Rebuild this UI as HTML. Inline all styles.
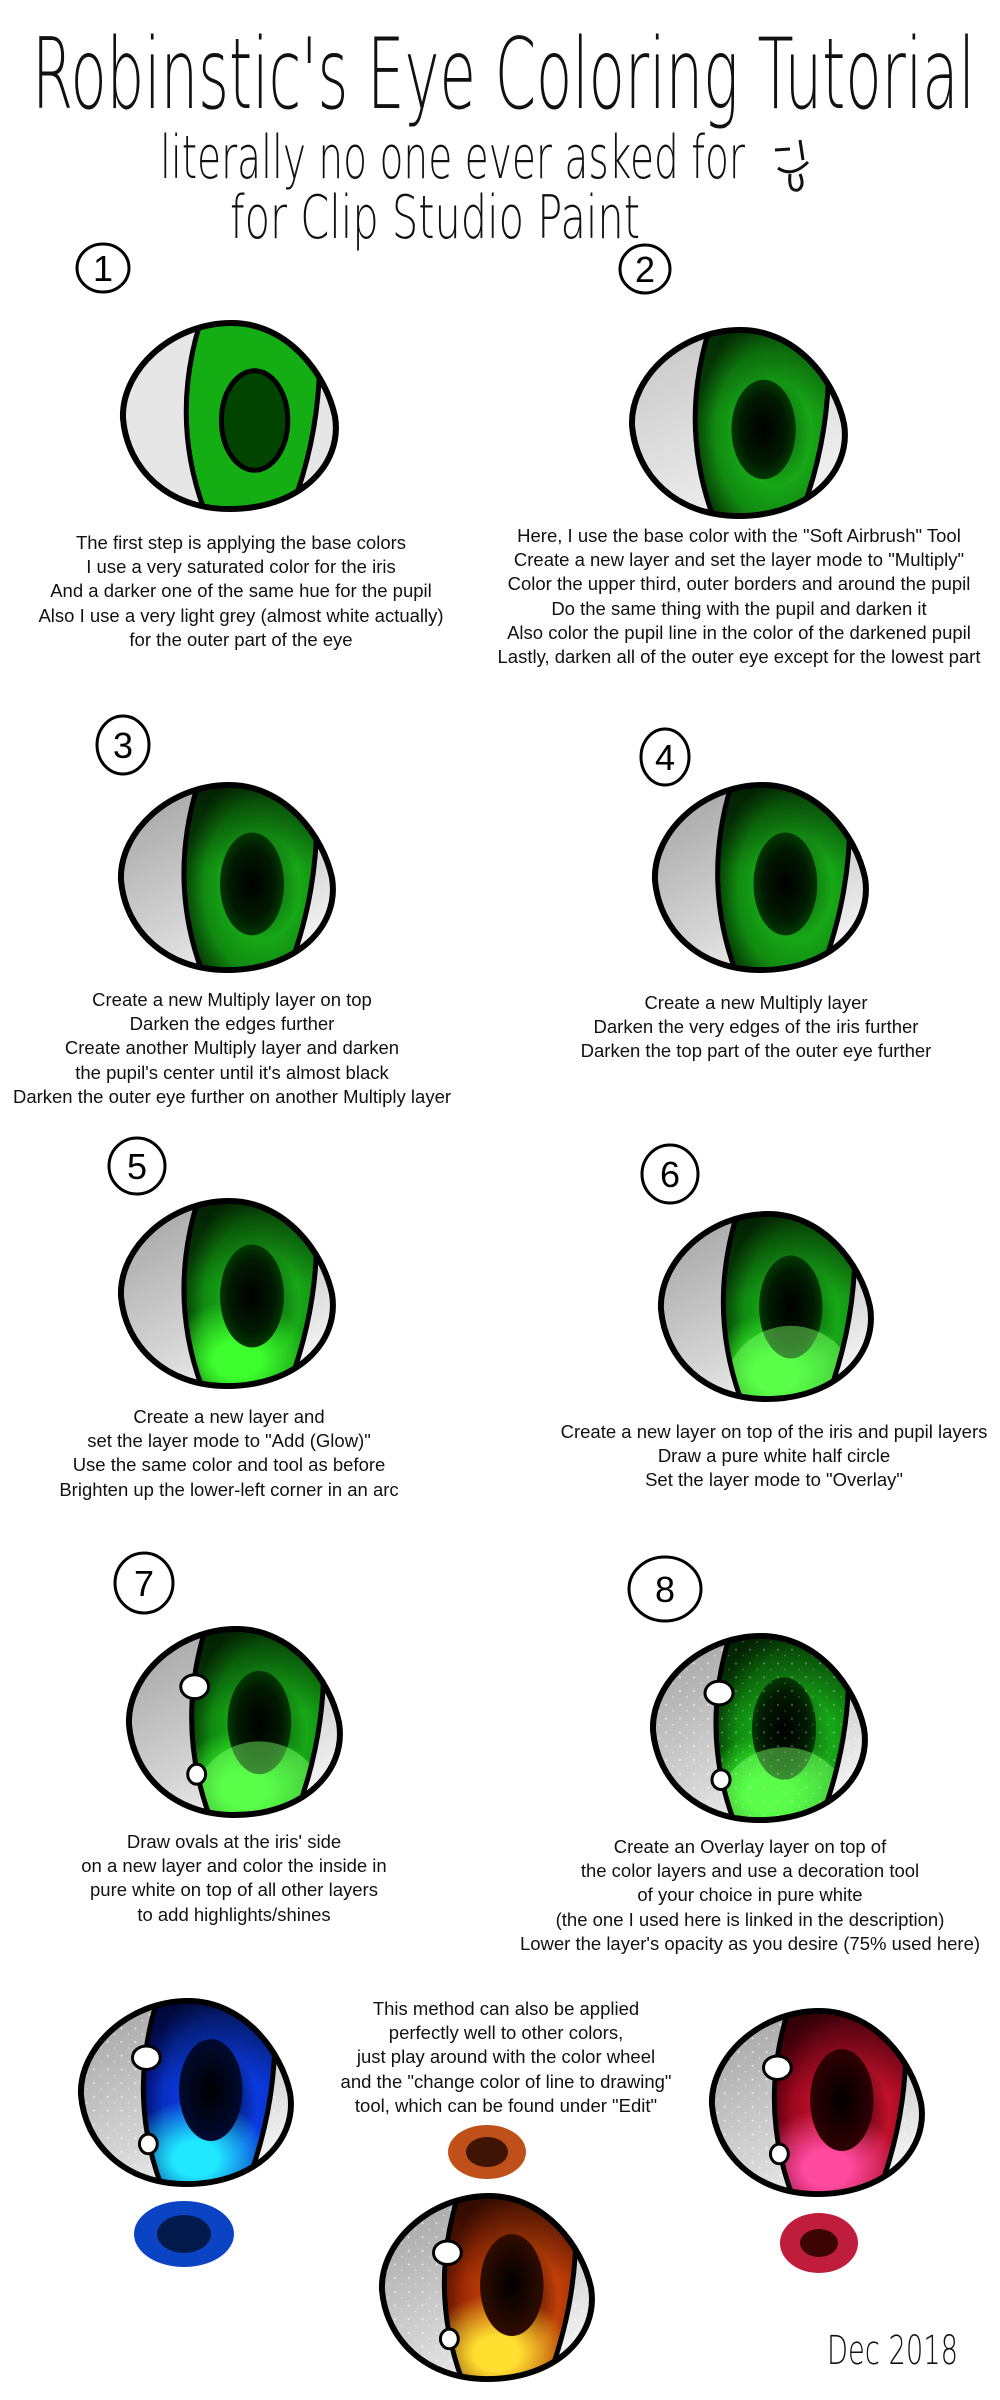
<!DOCTYPE html>
<html><head><meta charset="utf-8">
<style>
html,body{margin:0;padding:0;background:#fff;}
body{width:1000px;height:2400px;position:relative;overflow:hidden;font-family:"Liberation Sans",sans-serif;}
.t{position:absolute;width:640px;text-align:center;font-size:18.5px;line-height:24.2px;color:#111;white-space:nowrap;}
.e{position:absolute;}
.n{position:absolute;}
</style></head><body>
<svg width="0" height="0" style="position:absolute">
<defs>
<path id="eo" d="M112,4 C168,4 206,55 215,98 C223,148 178,191 110,191 C48,191 8,150 4,100 C2,52 52,4 112,4 Z"/>
<clipPath id="ec"><use href="#eo"/></clipPath>
<path id="ir" d="M82,0 Q50,100 86,195 L170,195 Q207,100 198,0 Z"/>
<clipPath id="ic"><use href="#ir"/></clipPath>
<path id="irl" d="M82,0 Q50,100 86,195 M198,0 Q207,100 170,195" fill="none" stroke="#000" stroke-width="5"/>
<linearGradient id="scl" x1="0" y1="0" x2="0.6" y2="1"><stop offset="0" stop-color="#9e9e9e"/><stop offset="0.7" stop-color="#d6d6d6"/><stop offset="1" stop-color="#f4f4f4"/></linearGradient>
<linearGradient id="scl2" x1="0" y1="0" x2="0.5" y2="1"><stop offset="0" stop-color="#c4c4c4"/><stop offset="1" stop-color="#f0f0f0"/></linearGradient>
<radialGradient id="gG" cx="0.6" cy="0.55" r="0.6"><stop offset="0" stop-color="#0a5a0a"/><stop offset="0.45" stop-color="#17a817"/><stop offset="0.75" stop-color="#108a10"/><stop offset="1" stop-color="#064006"/></radialGradient>
<radialGradient id="gB" cx="0.6" cy="0.55" r="0.6"><stop offset="0" stop-color="#001040"/><stop offset="0.45" stop-color="#0a3adf"/><stop offset="0.75" stop-color="#0830c0"/><stop offset="1" stop-color="#021070"/></radialGradient>
<radialGradient id="gR" cx="0.6" cy="0.55" r="0.6"><stop offset="0" stop-color="#400008"/><stop offset="0.45" stop-color="#c0102a"/><stop offset="0.75" stop-color="#a00820"/><stop offset="1" stop-color="#600010"/></radialGradient>
<radialGradient id="gO" cx="0.6" cy="0.55" r="0.6"><stop offset="0" stop-color="#401000"/><stop offset="0.45" stop-color="#c04008"/><stop offset="0.75" stop-color="#a02c04"/><stop offset="1" stop-color="#601400"/></radialGradient>
<linearGradient id="top" x1="0" y1="0" x2="0" y2="1"><stop offset="0" stop-color="#000" stop-opacity="0.55"/><stop offset="0.45" stop-color="#000" stop-opacity="0"/></linearGradient>
<radialGradient id="pup" cx="0.5" cy="0.5" r="0.5"><stop offset="0" stop-color="#000"/><stop offset="0.7" stop-color="#011a01"/><stop offset="1" stop-color="#033803"/></radialGradient>
<radialGradient id="pupB" cx="0.5" cy="0.5" r="0.5"><stop offset="0" stop-color="#000"/><stop offset="1" stop-color="#000a30"/></radialGradient>
<radialGradient id="pupR" cx="0.5" cy="0.5" r="0.5"><stop offset="0" stop-color="#000"/><stop offset="1" stop-color="#300004"/></radialGradient>
<radialGradient id="pupO" cx="0.5" cy="0.5" r="0.5"><stop offset="0" stop-color="#000"/><stop offset="1" stop-color="#300c00"/></radialGradient>
<radialGradient id="glG" cx="0.5" cy="0.5" r="0.5"><stop offset="0.3" stop-color="#3dff2d"/><stop offset="1" stop-color="#3dff2d" stop-opacity="0"/></radialGradient>
<radialGradient id="glB" cx="0.5" cy="0.5" r="0.5"><stop offset="0.3" stop-color="#20e8ff"/><stop offset="1" stop-color="#20e8ff" stop-opacity="0"/></radialGradient>
<radialGradient id="glR" cx="0.5" cy="0.5" r="0.5"><stop offset="0.3" stop-color="#ff4aa0"/><stop offset="1" stop-color="#ff4aa0" stop-opacity="0"/></radialGradient>
<radialGradient id="glO" cx="0.5" cy="0.5" r="0.5"><stop offset="0.3" stop-color="#ffe030"/><stop offset="1" stop-color="#ffe030" stop-opacity="0"/></radialGradient>
<pattern id="sp" width="14" height="14" patternUnits="userSpaceOnUse"><circle cx="3" cy="4" r="1" fill="#fff" opacity="0.7"/><circle cx="10" cy="10" r="0.8" fill="#fff" opacity="0.6"/></pattern>
<g id="hl"><ellipse cx="70" cy="62" rx="14" ry="12" fill="#fff" stroke="#000" stroke-width="3"/><ellipse cx="72" cy="150" rx="9" ry="10" fill="#fff" stroke="#000" stroke-width="3"/></g>
</defs></svg>

<!-- Title -->
<svg class="n" style="left:0;top:0" width="1000" height="260">
<g font-family="DejaVu Sans ExtraLight, DejaVu Sans, sans-serif" font-weight="200" fill="#111">
<text x="32" y="108" font-size="98" textLength="943" lengthAdjust="spacingAndGlyphs">Robinstic's Eye Coloring Tutorial</text>
<text x="160" y="178" font-size="60" textLength="585" lengthAdjust="spacingAndGlyphs">literally no one ever asked for</text>
<text x="230" y="238" font-size="60" textLength="410" lengthAdjust="spacingAndGlyphs">for Clip Studio Paint</text>
</g>
<path d="M775,150 L790,149 M800,140 L803,160 M778,168 Q792,178 808,162 M790,174 Q788,192 798,190 Q805,186 800,174" stroke="#111" stroke-width="3" fill="none"/>
</svg>

<!-- Circled numbers -->
<svg class="n" style="left:0;top:0" width="1000" height="1700">
<g fill="none" stroke="#000" stroke-width="3">
<ellipse cx="103" cy="268" rx="26" ry="24"/><ellipse cx="645" cy="269" rx="25" ry="24"/>
<ellipse cx="123" cy="745" rx="26" ry="29"/><ellipse cx="665" cy="757" rx="24" ry="28"/>
<ellipse cx="137" cy="1166" rx="28" ry="28"/><ellipse cx="670" cy="1174" rx="28" ry="29"/>
<ellipse cx="144" cy="1583" rx="29" ry="30"/><ellipse cx="665" cy="1589" rx="36" ry="32"/>
</g>
<g font-family="Liberation Sans, sans-serif" font-size="36" text-anchor="middle" fill="#000">
<text x="103" y="281">1</text><text x="645" y="282">2</text>
<text x="123" y="758">3</text><text x="665" y="770">4</text>
<text x="137" y="1179">5</text><text x="670" y="1187">6</text>
<text x="144" y="1596">7</text><text x="665" y="1602">8</text>
</g>
</svg>

<!-- Eye 1 -->
<svg class="e" style="left:119px;top:319px" width="221" height="194" viewBox="0 0 220 195" preserveAspectRatio="none">
<g clip-path="url(#ec)"><rect width="220" height="195" fill="#e6e6e6"/><use href="#ir" fill="#14ad14"/><use href="#irl"/></g>
<ellipse cx="135" cy="102" rx="33" ry="50" fill="#004400" stroke="#000" stroke-width="5"/>
<use href="#eo" fill="none" stroke="#000" stroke-width="6"/>
</svg>
<!-- Eye 2 -->
<svg class="e" style="left:628px;top:326px" width="221" height="194" viewBox="0 0 220 195" preserveAspectRatio="none">
<g clip-path="url(#ec)"><rect width="220" height="195" fill="url(#scl2)"/><use href="#ir" fill="url(#gG)"/><use href="#ir" fill="url(#top)" opacity="0.6"/>
<ellipse cx="135" cy="104" rx="32" ry="50" fill="url(#pup)"/><use href="#irl"/></g>
<use href="#eo" fill="none" stroke="#000" stroke-width="6"/>
</svg>
<!-- Eye 3 -->
<svg class="e" style="left:117px;top:781px" width="220" height="193" viewBox="0 0 220 195" preserveAspectRatio="none">
<g clip-path="url(#ec)"><rect width="220" height="195" fill="url(#scl)"/><use href="#ir" fill="url(#gG)"/><use href="#ir" fill="url(#top)"/>
<ellipse cx="135" cy="104" rx="32" ry="52" fill="url(#pup)"/><use href="#irl"/></g>
<use href="#eo" fill="none" stroke="#000" stroke-width="6"/>
</svg>
<!-- Eye 4 -->
<svg class="e" style="left:651px;top:781px" width="219" height="193" viewBox="0 0 220 195" preserveAspectRatio="none">
<g clip-path="url(#ec)"><rect width="220" height="195" fill="url(#scl)"/><use href="#ir" fill="url(#gG)"/><use href="#ir" fill="url(#top)"/>
<ellipse cx="135" cy="104" rx="32" ry="52" fill="url(#pup)"/><use href="#irl"/></g>
<use href="#eo" fill="none" stroke="#000" stroke-width="6"/>
</svg>
<!-- Eye 5 -->
<svg class="e" style="left:117px;top:1197px" width="220" height="193" viewBox="0 0 220 195" preserveAspectRatio="none">
<g clip-path="url(#ec)"><rect width="220" height="195" fill="url(#scl)"/><use href="#ir" fill="url(#gG)"/><use href="#ir" fill="url(#top)"/>
<g clip-path="url(#ic)"><ellipse cx="120" cy="165" rx="75" ry="60" fill="url(#glG)"/></g>
<ellipse cx="135" cy="100" rx="32" ry="52" fill="url(#pup)"/><use href="#irl"/></g>
<use href="#eo" fill="none" stroke="#000" stroke-width="6"/>
</svg>
<!-- Eye 6 -->
<svg class="e" style="left:657px;top:1210px" width="218" height="193" viewBox="0 0 220 195" preserveAspectRatio="none">
<g clip-path="url(#ec)"><rect width="220" height="195" fill="url(#scl)"/><use href="#ir" fill="url(#gG)"/><use href="#ir" fill="url(#top)"/>
<g clip-path="url(#ic)"><ellipse cx="120" cy="165" rx="75" ry="60" fill="url(#glG)"/></g>
<ellipse cx="135" cy="98" rx="32" ry="52" fill="url(#pup)"/>
<circle cx="135" cy="185" r="68" fill="#7dff6a" opacity="0.45" clip-path="url(#ic)"/><use href="#irl"/></g>
<use href="#eo" fill="none" stroke="#000" stroke-width="6"/>
</svg>
<!-- Eye 7 -->
<svg class="e" style="left:125px;top:1625px" width="219" height="194" viewBox="0 0 220 195" preserveAspectRatio="none">
<g clip-path="url(#ec)"><rect width="220" height="195" fill="url(#scl)"/><use href="#ir" fill="url(#gG)"/><use href="#ir" fill="url(#top)"/>
<g clip-path="url(#ic)"><ellipse cx="120" cy="165" rx="75" ry="60" fill="url(#glG)"/></g>
<ellipse cx="135" cy="98" rx="32" ry="52" fill="url(#pup)"/>
<circle cx="135" cy="185" r="68" fill="#7dff6a" opacity="0.45" clip-path="url(#ic)"/><use href="#irl"/></g>
<use href="#eo" fill="none" stroke="#000" stroke-width="6"/><use href="#hl"/>
</svg>
<!-- Eye 8 -->
<svg class="e" style="left:649px;top:1632px" width="220" height="192" viewBox="0 0 220 195" preserveAspectRatio="none">
<g clip-path="url(#ec)"><rect width="220" height="195" fill="url(#scl)"/><rect width="220" height="195" fill="url(#sp)"/><use href="#ir" fill="url(#gG)"/><use href="#ir" fill="url(#top)"/>
<g clip-path="url(#ic)"><ellipse cx="120" cy="165" rx="75" ry="60" fill="url(#glG)"/></g>
<ellipse cx="135" cy="98" rx="32" ry="52" fill="url(#pup)"/>
<circle cx="135" cy="185" r="68" fill="#7dff6a" opacity="0.45" clip-path="url(#ic)"/><use href="#ir" fill="url(#sp)" opacity="0.5"/><use href="#irl"/></g>
<use href="#eo" fill="none" stroke="#000" stroke-width="6"/><use href="#hl"/>
</svg>
<!-- Blue eye -->
<svg class="e" style="left:77px;top:1997px" width="218" height="191" viewBox="0 0 220 195" preserveAspectRatio="none">
<g clip-path="url(#ec)"><rect width="220" height="195" fill="url(#scl)"/><rect width="220" height="195" fill="url(#sp)"/><use href="#ir" fill="url(#gB)"/><use href="#ir" fill="url(#top)"/>
<g clip-path="url(#ic)"><ellipse cx="120" cy="165" rx="75" ry="60" fill="url(#glB)"/></g>
<ellipse cx="135" cy="95" rx="32" ry="52" fill="url(#pupB)"/><use href="#irl"/></g>
<use href="#eo" fill="none" stroke="#000" stroke-width="6"/><use href="#hl"/>
</svg>
<!-- Red eye -->
<svg class="e" style="left:708px;top:2007px" width="218" height="191" viewBox="0 0 220 195" preserveAspectRatio="none">
<g clip-path="url(#ec)"><rect width="220" height="195" fill="url(#scl)"/><rect width="220" height="195" fill="url(#sp)"/><use href="#ir" fill="url(#gR)"/><use href="#ir" fill="url(#top)"/>
<g clip-path="url(#ic)"><ellipse cx="120" cy="165" rx="75" ry="60" fill="url(#glR)"/></g>
<ellipse cx="135" cy="95" rx="32" ry="52" fill="url(#pupR)"/><use href="#irl"/></g>
<use href="#eo" fill="none" stroke="#000" stroke-width="6"/><use href="#hl"/>
</svg>
<!-- Orange eye -->
<svg class="e" style="left:378px;top:2192px" width="218" height="191" viewBox="0 0 220 195" preserveAspectRatio="none">
<g clip-path="url(#ec)"><rect width="220" height="195" fill="url(#scl)"/><rect width="220" height="195" fill="url(#sp)"/><use href="#ir" fill="url(#gO)"/><use href="#ir" fill="url(#top)"/>
<g clip-path="url(#ic)"><ellipse cx="120" cy="165" rx="75" ry="60" fill="url(#glO)"/></g>
<ellipse cx="135" cy="95" rx="32" ry="52" fill="url(#pupO)"/><use href="#irl"/></g>
<use href="#eo" fill="none" stroke="#000" stroke-width="6"/><use href="#hl"/>
</svg>

<!-- Swatches & date -->
<svg class="n" style="left:0;top:2100px" width="1000" height="300">
<ellipse cx="184" cy="134" rx="50" ry="33" fill="#0a44c4"/><ellipse cx="184" cy="134" rx="27" ry="19" fill="#031a4c"/>
<ellipse cx="487" cy="52" rx="39" ry="27" fill="#c0501a"/><ellipse cx="487" cy="52" rx="21" ry="15" fill="#401404"/>
<ellipse cx="819" cy="143" rx="39" ry="30" fill="#c01c3c"/><ellipse cx="819" cy="143" rx="19" ry="14" fill="#3c0404"/>
<text x="827" y="264" font-family="DejaVu Sans ExtraLight, DejaVu Sans, sans-serif" font-weight="200" font-size="40" textLength="131" lengthAdjust="spacingAndGlyphs" fill="#111">Dec 2018</text>
</svg>

<!-- Texts -->
<div class="t" style="left:-79px;top:531px">The first step is applying the base colors<br>I use a very saturated color for the iris<br>And a darker one of the same hue for the pupil<br>Also I use a very light grey (almost white actually)<br>for the outer part of the eye</div>
<div class="t" style="left:419px;top:524px">Here, I use the base color with the "Soft Airbrush" Tool<br>Create a new layer and set the layer mode to "Multiply"<br>Color the upper third, outer borders and around the pupil<br>Do the same thing with the pupil and darken it<br>Also color the pupil line in the color of the darkened pupil<br>Lastly, darken all of the outer eye except for the lowest part</div>
<div class="t" style="left:-88px;top:988px">Create a new Multiply layer on top<br>Darken the edges further<br>Create another Multiply layer and darken<br>the pupil's center until it's almost black<br>Darken the outer eye further on another Multiply layer</div>
<div class="t" style="left:436px;top:991px">Create a new Multiply layer<br>Darken the very edges of the iris further<br>Darken the top part of the outer eye further</div>
<div class="t" style="left:-91px;top:1405px">Create a new layer and<br>set the layer mode to "Add (Glow)"<br>Use the same color and tool as before<br>Brighten up the lower-left corner in an arc</div>
<div class="t" style="left:454px;top:1420px">Create a new layer on top of the iris and pupil layers<br>Draw a pure white half circle<br>Set the layer mode to "Overlay"</div>
<div class="t" style="left:-86px;top:1830px">Draw ovals at the iris' side<br>on a new layer and color the inside in<br>pure white on top of all other layers<br>to add highlights/shines</div>
<div class="t" style="left:430px;top:1835px">Create an Overlay layer on top of<br>the color layers and use a decoration tool<br>of your choice in pure white<br>(the one I used here is linked in the description)<br>Lower the layer's opacity as you desire (75% used here)</div>
<div class="t" style="left:186px;top:1997px">This method can also be applied<br>perfectly well to other colors,<br>just play around with the color wheel<br>and the "change color of line to drawing"<br>tool, which can be found under "Edit"</div>
</body></html>
